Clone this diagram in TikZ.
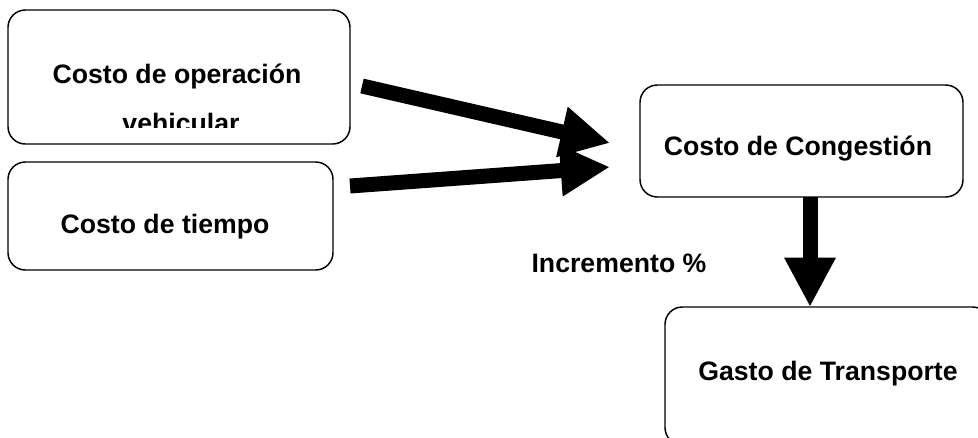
\documentclass[tikz,border=0pt]{standalone}
\usepackage{fontspec}
\setmainfont{Liberation Sans}
\usetikzlibrary{arrows.meta}
\begin{document}
\begin{tikzpicture}[x=0.75pt,y=-0.75pt,
  box/.style={draw, line width=1.1pt, rounded corners=13pt, inner sep=0pt, outer sep=0pt},
  lbl/.style={font=\bfseries\fontsize{20}{24}\selectfont, anchor=base, inner sep=0pt},
  bigarrow/.style={line width=11.25pt, -{Triangle[length=37pt,width=36pt]}}]
\clip (0,0) rectangle (978,437);
\fill[white] (0,0) rectangle (978,437);
% boxes
\node[box, minimum width=256.5pt, minimum height=100.5pt] (b1) at (179,77) {};
\node[box, minimum width=243.75pt, minimum height=81pt] (b2) at (170.5,216) {};
\node[box, minimum width=242.25pt, minimum height=84pt] (b3) at (801.5,141) {};
\node[box, minimum width=243.75pt, minimum height=103.5pt] (b4) at (827.5,376) {};
% texts
\node[lbl] (t1a) at (177,83) {Costo de operación};
\begin{scope}
  \clip (8,10) rectangle (350,127.5);
  \node[lbl] (t1b) at (181,132) {vehicular};
\end{scope}
\node[lbl] (t2) at (165,233) {Costo de tiempo};
\node[lbl] (t3) at (798,155) {Costo de Congestión};
\node[lbl] (t4) at (828,380) {Gasto de Transporte};
\node[lbl] (inc) at (619,272) {Incremento \%};
% arrows
\coordinate (s1) at (362,86);
\coordinate (e1) at (610,143);
\coordinate (s2) at (350,186);
\coordinate (e2) at (610,167);
\draw[bigarrow] (s1) -- (e1);
\draw[bigarrow] (s2) -- (e2);
\draw[bigarrow] (b3.south -| 810,0) -- (b4.north -| 810,0);
\end{tikzpicture}
\end{document}
